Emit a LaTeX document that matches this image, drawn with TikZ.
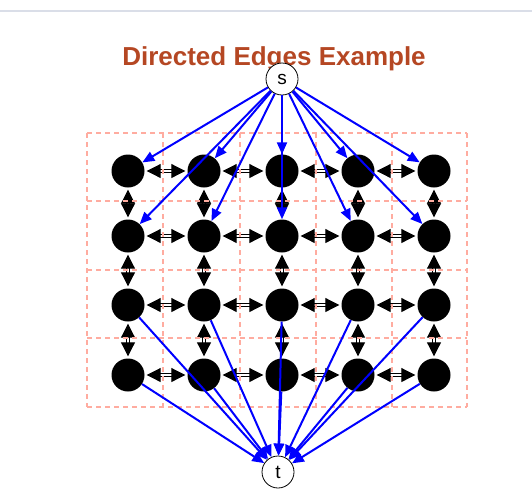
\documentclass[tikz,border=0pt]{standalone}
\usepackage{fontspec}
\setmainfont{Liberation Sans}
\usetikzlibrary{arrows.meta}
\definecolor{titlered}{RGB}{181,71,35}
\definecolor{gridpink}{RGB}{255,172,160}
\definecolor{rulegray}{RGB}{218,222,232}
\tikzset{>=stealth}
\tikzset{
  vertex/.style={circle,fill=black,minimum size=33pt,inner sep=0pt},
  terminal/.style={circle,draw,fill=white,line width=0.8pt,minimum size=32pt,inner sep=0pt,font=\fontsize{19}{19}\selectfont},
  heading/.style={anchor=base,text=titlered,font=\bfseries\fontsize{26}{26}\selectfont},
  flow/.style={blue,line width=2pt,-{Triangle[length=12pt,width=10pt]}},
  link/.style={double,double distance=1.8pt,line width=1pt,{Triangle[length=14pt,width=14pt]}-{Triangle[length=14pt,width=14pt]},shorten <=2pt,shorten >=2pt},
  cell/.style={gridpink,dash pattern=on 5pt off 4pt,line width=1.3pt}
}

\begin{document}
\begin{tikzpicture}[x=1pt,y=-1pt]
\useasboundingbox (0,0) rectangle (532,499);
\draw[rulegray,line width=1.5pt] (0,11) -- (532,11);

\node[heading] (title) at (274,65) {Directed Edges Example};

\foreach \c/\x in {1/128,2/204,3/282,4/358,5/434}
  \foreach \r/\y in {1/171,2/236,3/305,4/375}
    \node[vertex] (N\r\c) at (\x,\y) {};

\node[terminal] (s) at (282,79) {s};
\node[terminal] (t) at (278,472) {t};

\foreach \r in {1,...,4}
  \foreach \c/\d in {1/2,2/3,3/4,4/5}
    \draw[link] (N\r\c) -- (N\r\d);
\foreach \c in {1,...,5}
  \foreach \r/\q in {1/2,2/3,3/4}
    \draw[link] (N\r\c) -- (N\q\c);

\foreach \x in {87,163,240,316,392,467}
  \draw[cell] (\x,133) -- (\x,407);
\foreach \y in {133,201,270,338,407}
  \draw[cell] (87,\y) -- (467,\y);

\foreach \c in {1,...,5} {
  \draw[flow] (s) -- (N1\c);
  \draw[flow] (s) -- (N2\c);
  \draw[flow] (N3\c) -- (t);
  \draw[flow] (N4\c) -- (t);
}
\end{tikzpicture}
\end{document}
